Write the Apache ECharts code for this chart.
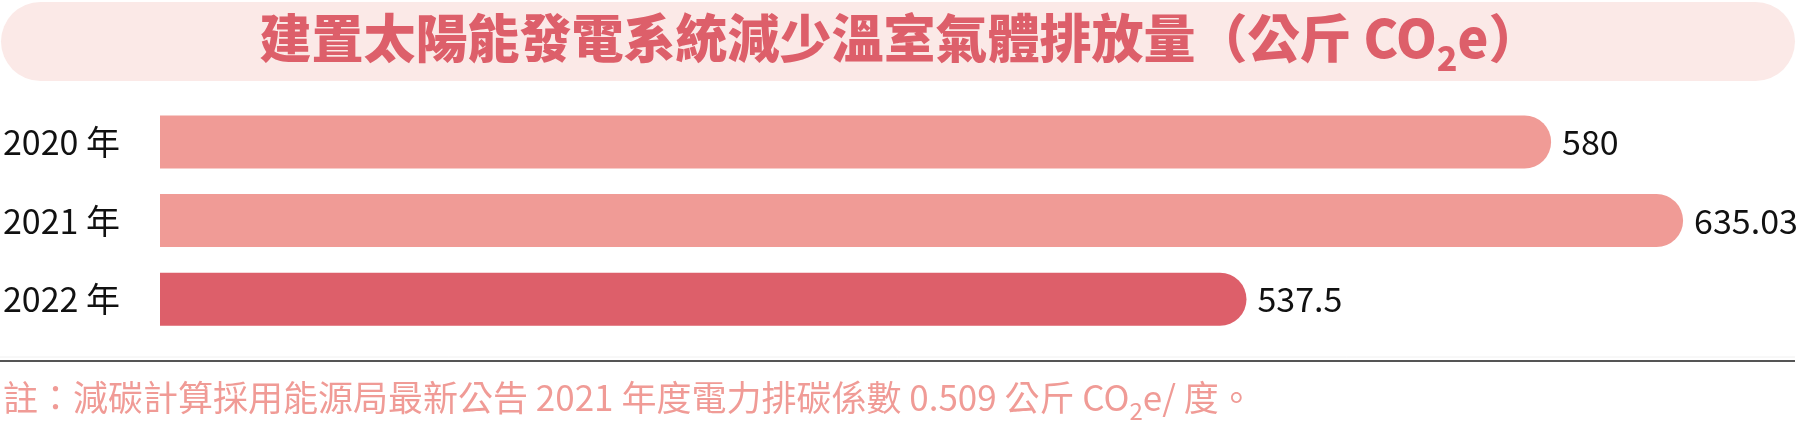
<!DOCTYPE html>
<html>
<head>
<meta charset="utf-8">
<script src="https://cdn.jsdelivr.net/npm/echarts@6/dist/echarts.min.js"></script>
<style>
html,body{margin:0;padding:0;background:#fff;}
#chart{width:1800px;height:422px;}
</style>
</head>
<body>
<div id="chart"></div>
<script>
// ---- data ----
const categories = ['2020 年', '2021 年', '2022 年'];
// values printed at the bar ends
const values = [580, 635.03, 537.5];
const valueLabels = ['580', '635.03', '537.5'];
// bar lengths as drawn in the picture (the 2022 bar is drawn shorter than its label)
const barLengths = [580, 635.03, 453];
const barColors = ['#f09b96', '#f09b96', '#dd5f6a'];
const titleParts = ['建置太陽能發電系統減少溫室氣體排放量（公斤 CO', '2', 'e）'];
const noteParts = ['註：減碳計算採用能源局最新公告 2021 年度電力排碳係數 0.509 公斤 CO', '2', 'e/ 度。'];

const FONT = '"Noto Sans CJK TC", "Noto Sans", sans-serif';

const chart = echarts.init(document.getElementById('chart'), null, {renderer: 'canvas'});

const seriesData = barLengths.map((v, i) => ({
  value: v,
  itemStyle: { color: barColors[i] }
}));

chart.setOption({
  animation: false,
  backgroundColor: '#ffffff',
  graphic: [
    {
      type: 'rect', z: 0,
      shape: { x: 1, y: 2, width: 1794, height: 79, r: 39.5 },
      style: { fill: '#fbe9e7' }
    },
    {
      type: 'line', z: 0,
      shape: { x1: 0, y1: 357, x2: 1795, y2: 357 },
      style: { stroke: '#f0f0f0', lineWidth: 1 }
    },
    {
      type: 'line', z: 0,
      shape: { x1: 0, y1: 361, x2: 1795, y2: 361 },
      style: { stroke: '#555555', lineWidth: 2 }
    }
  ],
  title: [
    {
      text: '{a|' + titleParts[0] + '}{s|' + titleParts[1] + '}{a|' + titleParts[2] + '}',
      left: 'center',
      top: 12.5,
      padding: 0,
      z: 10,
      textStyle: {
        fontFamily: FONT,
        rich: {
          a: { fontFamily: FONT, fontSize: 52, fontWeight: 900, color: '#dd5f6a', lineHeight: 58, verticalAlign: 'top' },
          s: { fontFamily: FONT, fontSize: 34, fontWeight: 900, color: '#dd5f6a', lineHeight: 34, verticalAlign: 'top', padding: [29, 0, 0, 0] }
        }
      }
    },
    {
      text: '{a|' + noteParts[0] + '}{s|' + noteParts[1] + '}{a|' + noteParts[2] + '}',
      left: 3,
      top: 380,
      padding: 0,
      z: 10,
      textStyle: {
        fontFamily: FONT,
        rich: {
          a: { fontFamily: FONT, fontSize: 35, fontWeight: 'normal', color: '#f09b96', lineHeight: 40, verticalAlign: 'top' },
          s: { fontFamily: FONT, fontSize: 24, fontWeight: 'normal', color: '#f09b96', lineHeight: 24, verticalAlign: 'top', padding: [19, 0, 0, 0] }
        }
      }
    }
  ],
  grid: {
    left: 159,
    right: 81,
    top: 102.6,
    height: 236,
    containLabel: false
  },
  xAxis: {
    type: 'value',
    min: 0,
    max: 650,
    show: false
  },
  yAxis: {
    type: 'category',
    data: categories,
    inverse: true,
    axisLine: { show: false },
    axisTick: { show: false },
    splitLine: { show: false },
    axisLabel: {
      align: 'left',
      margin: 157,
      fontFamily: FONT,
      fontSize: 34,
      color: '#111111'
    }
  },
  series: [{
    type: 'bar',
    data: seriesData,
    barWidth: 53,
    itemStyle: { borderRadius: [0, 26.5, 26.5, 0] },
    label: {
      show: true,
      position: 'right',
      distance: 11,
      fontFamily: FONT,
      fontSize: 34,
      color: '#111111',
      formatter: (p) => valueLabels[p.dataIndex]
    }
  }]
});
</script>
</body>
</html>
